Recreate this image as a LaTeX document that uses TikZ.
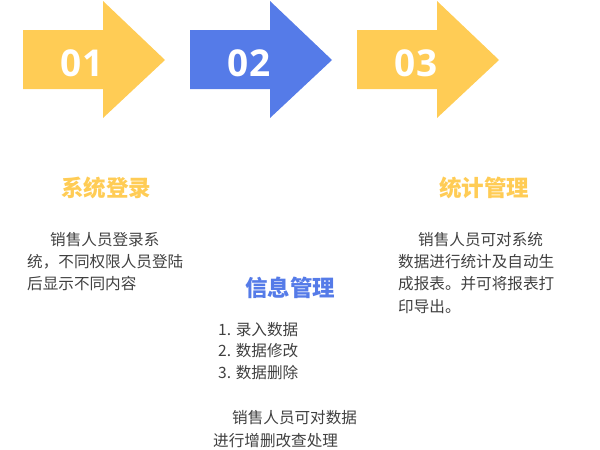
\documentclass[tikz,border=0pt]{standalone}
\usepackage{fontspec}
\setmainfont{Open Sans}
\newfontfamily\cjk{Noto Sans CJK SC}
\definecolor{stepyellow}{HTML}{FFCC55}
\definecolor{stepblue}{HTML}{557BE8}
\definecolor{bodygray}{HTML}{404040}

\begin{document}
\begin{tikzpicture}[x=1pt,y=-1pt,
  num/.style={white,font=\bfseries\fontsize{37}{37}\selectfont,inner sep=0pt,anchor=base},
  title/.style={font=\cjk\bfseries\fontsize{22.5}{26}\selectfont,inner sep=0pt},
  body/.style={bodygray,font=\cjk\fontsize{15.6}{22.3}\selectfont,align=left,inner sep=0pt,anchor=north west}]

\useasboundingbox (0,0) rectangle (600,450);

\foreach \n/\c in {1/stepyellow,2/stepblue,3/stepyellow}{
\begin{scope}[xshift={(\n-1)*167pt}]
\fill[\c] (23,30) -- (103,30) -- (103,1) -- (165,60) -- (103,118) -- (103,89) -- (23,89) -- cycle;
\node[num] (num\n) at (82,76) {0\n};
\end{scope}}

\node[title,stepyellow] (login) at (106,188) {系统登录};
\node[title,stepblue]   (info)  at (290,288) {信息管理};
\node[title,stepyellow] (stat)  at (484,188) {统计管理};

\node[body] (logintext) at (27,232) {\hspace*{23pt}销售人员登录系\\统，不同权限人员登陆\\后显示不同内容};

\node[body,font=\cjk\fontsize{15.6}{21.5}\selectfont] (infolist) at (218,322) {1. 录入数据\\2. 数据修改\\3. 数据删除};
\node[body,font=\cjk\fontsize{15.6}{23.5}\selectfont] (infotext) at (213,410) {\hspace*{19pt}销售人员可对数据\\进行增删改查处理};

\node[body] (stattext) at (398,232) {\hspace*{20pt}销售人员可对系统\\数据进行统计及自动生\\成报表。并可将报表打\\印导出。};

\end{tikzpicture}
\end{document}
